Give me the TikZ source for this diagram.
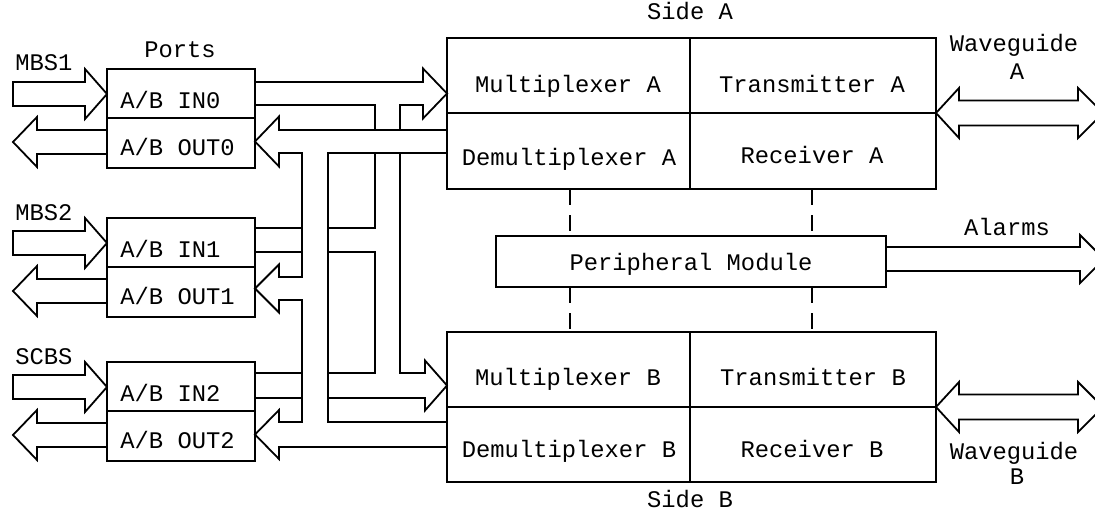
\documentclass[tikz,border=0pt]{standalone}
\usepackage{fontspec}
\usepackage{tikz}
\usetikzlibrary{positioning}
\newfontfamily\monofont{Liberation Mono}
\tikzset{
  lbl/.style={font=\monofont\fontsize{11.9}{14}\selectfont, inner sep=0pt},
  wire/.style={line width=0.9pt, line join=miter},
  link/.style={line width=0.9pt, dash pattern=on 8pt off 5pt}
}

\begin{document}
\begin{tikzpicture}[x=0.5pt,y=-0.5pt]
\useasboundingbox (0,0) rectangle (1095,519);
\clip (0,0) rectangle (1095,519);

% ports with their outside arrows
\foreach \t/\src/\p in {69/MBS1/0,218/MBS2/1,362/SCBS/2}{
  \draw[wire] (107,\t) rectangle (255,\t+99);
  \draw[wire] (107,\t+49) -- (255,\t+49);
  \node[lbl,anchor=base west] (in\p) at (120,\t+39) {A/B IN\p};
  \node[lbl,anchor=base west] (out\p) at (120,\t+86) {A/B OUT\p};
  \node[lbl,anchor=base west] (src\p) at (15,\t+2) {\src};
  \draw[wire] (13,\t+13) -- (85,\t+13) -- (85,\t) -- (107,\t+25) -- (85,\t+50) -- (85,\t+37) -- (13,\t+37) -- cycle;
  \draw[wire] (107,\t+61) -- (37,\t+61) -- (37,\t+48) -- (13,\t+73) -- (37,\t+98) -- (37,\t+85) -- (107,\t+85);
}
\node[lbl,anchor=base] (ports) at (180,58) {Ports};

% side A and side B
\draw[wire] (447,38) rectangle (936,189);
\draw[wire] (447,113) -- (936,113);
\draw[wire] (690,38) -- (690,189);
\draw[wire] (447,332) rectangle (936,482);
\draw[wire] (447,407) -- (936,407);
\draw[wire] (690,332) -- (690,482);
\node[lbl,anchor=base] (sidea) at (690,20) {Side A};
\node[lbl,anchor=base] (sideb) at (690,507) {Side B};
\node[lbl,anchor=base] (muxa) at (568,92) {Multiplexer A};
\node[lbl,anchor=base] (demuxa) at (569,165) {Demultiplexer A};
\node[lbl,anchor=base] (txa) at (812,92) {Transmitter A};
\node[lbl,anchor=base] (rxa) at (812,163) {Receiver A};
\node[lbl,anchor=base] (muxb) at (568,385) {Multiplexer B};
\node[lbl,anchor=base] (demuxb) at (569,457) {Demultiplexer B};
\node[lbl,anchor=base] (txb) at (813,385) {Transmitter B};
\node[lbl,anchor=base] (rxb) at (812,457) {Receiver B};

% peripheral module
\draw[wire] (496,236) rectangle (886,287);
\node[lbl,anchor=base] (periph) at (691,270) {Peripheral Module};
\draw[link] (570,189) -- (570,236);
\draw[link] (570,287) -- (570,332);
\draw[link] (812,189) -- (812,236);
\draw[link] (812,287) -- (812,332);

% busses between ports and multiplexers
\draw[wire] (255,82) -- (423,82) -- (423,68.5) -- (447,93.5) -- (423,118.5) -- (423,105) -- (400,105) -- (400,130);
\draw[wire] (255,105) -- (375,105) -- (375,130);
\draw[wire] (447,130) -- (279,130) -- (279,116.5) -- (255,141.5) -- (279,166.5) -- (279,153) -- (302,153)
  -- (302,277) -- (279,277) -- (279,264.5) -- (255,288.5) -- (279,312.5) -- (279,300) -- (302,300)
  -- (302,422) -- (279,422) -- (279,410) -- (255,434.5) -- (279,459) -- (279,447) -- (447,447);
\draw[wire] (447,153) -- (328,153) -- (328,422) -- (447,422);
\draw[wire] (255,228) -- (302,228);
\draw[wire] (255,252) -- (302,252);
\draw[wire] (375,153) -- (375,228) -- (328,228);
\draw[wire] (328,252) -- (375,252) -- (375,373) -- (328,373);
\draw[wire] (255,373) -- (302,373);
\draw[wire] (255,398) -- (302,398);
\draw[wire] (400,153) -- (400,373) -- (425,373) -- (425,360.5) -- (447,385.5) -- (425,410.5) -- (425,398) -- (328,398);

% waveguides and alarms
\draw[wire] (936,113) -- (959,88) -- (959,100.5) -- (1078,100.5) -- (1078,88) -- (1103,113)
  -- (1078,138) -- (1078,125.5) -- (959,125.5) -- (959,138) -- cycle;
\draw[wire] (936,407) -- (959,382) -- (959,394.5) -- (1078,394.5) -- (1078,382) -- (1103,407)
  -- (1078,432) -- (1078,419.5) -- (959,419.5) -- (959,432) -- cycle;
\draw[wire] (886,247) -- (1080,247) -- (1080,235) -- (1104,259) -- (1080,283) -- (1080,271) -- (886,271);
\node[lbl,anchor=base] (wga) at (1014,52) {Waveguide};
\node[lbl,anchor=base] (wgaid) at (1017,80) {A};
\node[lbl,anchor=base] (wgb) at (1014,459) {Waveguide};
\node[lbl,anchor=base] (wgbid) at (1017,484) {B};
\node[lbl,anchor=base] (alarms) at (1007,235) {Alarms};
\end{tikzpicture}
\end{document}
